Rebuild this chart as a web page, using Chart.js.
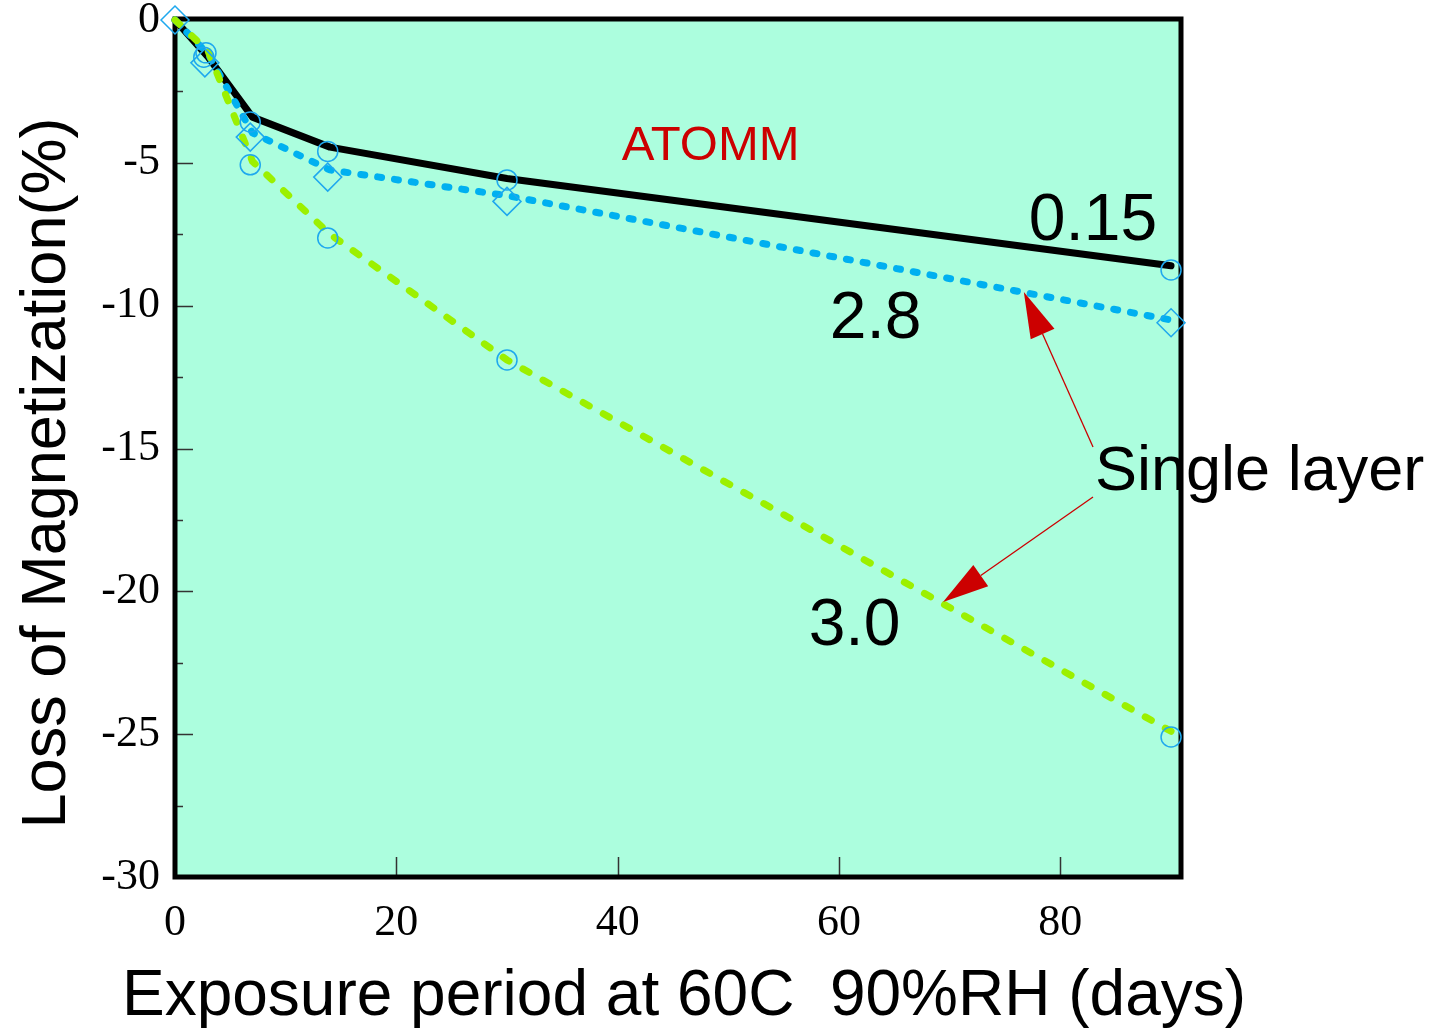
<!DOCTYPE html>
<html><head><meta charset="utf-8">
<script src="https://cdn.jsdelivr.net/npm/chart.js@4.4.1/dist/chart.umd.min.js"></script>
<style>html,body{margin:0;padding:0;background:#fff;}</style>
</head><body>
<canvas id="c" width="1434" height="1035" style="display:block;width:1434px;height:1035px"></canvas>
<script>
// ---- data ----
const days = [0, 3, 7, 14, 30, 90];
const line015 = [0, -1.3, -3.4, -4.45, -5.55, -8.6];
const line28 = [0, -1.2, -3.95, -5.25, -6.15, -10.5];
const line30 = [0, -1.1, -4.95, -7.5, -11.9, -24.9];
const circleX = [2.8, 2.6, 6.8, 6.8, 13.8, 13.8, 30, 30, 90, 90];
const circleY = [-1.15, -1.3, -3.57, -5.07, -4.6, -7.63, -5.6, -11.9, -8.75, -25.1];
const diamondX = [0, 2.7, 6.8, 13.8, 30, 90];
const diamondY = [0, -1.5, -4.1, -5.5, -6.35, -10.6];
const xTickValues = [0, 20, 40, 60, 80];
const yTickValues = [0, -5, -10, -15, -20, -25, -30];
const xTitle = 'Exposure period at 60C  90%RH (days)';
const yTitle = 'Loss of Magnetization(%)';
const seriesNames = ['0.15', '2.8', '3.0'];
const noteTitle = 'ATOMM';
const noteArrow = 'Single layer';

// ---- annotation placement (data coordinates) ----
const textPlacement = [
  {text: noteTitle, x: 48.4, y: -4.43, size: 49, color: '#cc0000', align: 'center'},
  {text: seriesNames[0], x: 82.95, y: -7.07, size: 66, color: '#000', align: 'center'},
  {text: seriesNames[1], x: 63.3, y: -10.5, size: 66, color: '#000', align: 'center'},
  {text: seriesNames[2], x: 61.4, y: -21.25, size: 66, color: '#000', align: 'center'},
  {text: noteArrow, x: 83.13, y: -15.86, size: 63, color: '#000', align: 'left'}
];
const arrowPlacement = [
  {x1: 82.95, y1: -14.95, x2: 76.7, y2: -9.52},
  {x1: 82.95, y1: -16.7, x2: 69.4, y2: -20.37}
];

const pts = (xs, ys) => xs.map((x, i) => ({x: x, y: ys[i]}));

const BG = '#acfede';
const MARK = '#1ea8ee';
const SANS = '"Liberation Sans", Arial, sans-serif';

const deco = {
  id: 'deco',
  beforeDraw(chart) {
    const {ctx, chartArea: a} = chart;
    ctx.save();
    ctx.fillStyle = BG;
    ctx.fillRect(a.left, a.top, a.right - a.left, a.bottom - a.top);
    ctx.restore();
  },
  beforeDatasetsDraw(chart) {
    const {ctx, chartArea: a, scales} = chart;
    ctx.save();
    ctx.strokeStyle = '#333';
    ctx.lineWidth = 1.5;
    ctx.beginPath();
    scales.y.ticks.forEach(t => {
      if (t.value === 0 || t.value === -30) return;
      const py = Math.round(scales.y.getPixelForValue(t.value)) + 0.5;
      const len = (t.value % 5 === 0) ? 18 : 8;
      ctx.moveTo(a.left, py); ctx.lineTo(a.left + len, py);
    });
    xTickValues.forEach(v => {
      if (v === 0) return;
      const px = Math.round(scales.x.getPixelForValue(v)) + 0.5;
      ctx.moveTo(px, a.bottom); ctx.lineTo(px, a.bottom - 20);
    });
    ctx.stroke();
    ctx.strokeStyle = '#000';
    ctx.lineWidth = 5;
    ctx.strokeRect(a.left, a.top - 1, a.right - a.left, a.bottom - a.top + 1);
    ctx.restore();
  },
  afterDatasetsDraw(chart) {
    const {ctx, scales} = chart;
    const X = v => scales.x.getPixelForValue(v), Y = v => scales.y.getPixelForValue(v);
    ctx.save();
    arrowPlacement.forEach(ar => {
      const x1 = X(ar.x1), y1 = Y(ar.y1), x2 = X(ar.x2), y2 = Y(ar.y2);
      const ang = Math.atan2(y2 - y1, x2 - x1);
      const hl = 46, hw = 13;
      const bx = x2 - Math.cos(ang) * hl, by = y2 - Math.sin(ang) * hl;
      ctx.strokeStyle = '#cc0000'; ctx.lineWidth = 1.3;
      ctx.beginPath(); ctx.moveTo(x1, y1); ctx.lineTo(bx, by); ctx.stroke();
      ctx.fillStyle = '#cc0000';
      ctx.beginPath();
      ctx.moveTo(x2, y2);
      ctx.lineTo(bx + Math.sin(ang) * hw, by - Math.cos(ang) * hw);
      ctx.lineTo(bx - Math.sin(ang) * hw, by + Math.cos(ang) * hw);
      ctx.closePath(); ctx.fill();
    });
    textPlacement.forEach(t => {
      ctx.font = t.size + 'px ' + SANS;
      ctx.fillStyle = t.color;
      ctx.textAlign = t.align;
      ctx.textBaseline = 'middle';
      ctx.fillText(t.text, X(t.x), Y(t.y));
    });
    // x axis title
    ctx.font = '64px ' + SANS;
    ctx.fillStyle = '#000';
    ctx.textAlign = 'center';
    ctx.textBaseline = 'middle';
    ctx.fillText(xTitle, 684, 997);
    // y axis title
    ctx.font = '63px ' + SANS;
    ctx.translate(48, 473);
    ctx.rotate(-Math.PI / 2);
    ctx.fillText(yTitle, 0, 0);
    ctx.restore();
  }
};

new Chart(document.getElementById('c'), {
  type: 'line',
  data: {
    datasets: [
      {label: 'circles', data: pts(circleX, circleY), showLine: false, pointStyle: 'circle', pointRadius: 10,
        pointBorderWidth: 1.5, borderColor: MARK, backgroundColor: 'rgba(0,0,0,0)', order: 0, clip: false},
      {label: 'diamonds', data: pts(diamondX, diamondY), showLine: false, pointStyle: 'rectRot', pointRadius: 14,
        pointBorderWidth: 1.5, borderColor: MARK, backgroundColor: 'rgba(0,0,0,0)', order: 0, clip: false},
      {label: seriesNames[2], data: pts(days, line30), borderColor: '#9cf000', borderWidth: 7, borderDash: [7, 16],
        borderCapStyle: 'round', pointRadius: 0, tension: 0, order: 1, clip: false},
      {label: seriesNames[1], data: pts(days, line28), borderColor: '#00b0f0', borderWidth: 7, borderDash: [4, 13],
        borderCapStyle: 'round', pointRadius: 0, tension: 0, order: 2, clip: false},
      {label: seriesNames[0], data: pts(days, line015), borderColor: '#000', borderWidth: 7,
        borderCapStyle: 'round', borderJoinStyle: 'round', pointRadius: 0, tension: 0, order: 3, clip: false}
    ]
  },
  options: {
    responsive: false,
    animation: false,
    devicePixelRatio: 1,
    layout: {padding: {top: 20, right: 253, left: 0, bottom: 0}},
    plugins: {legend: {display: false}, tooltip: {enabled: false}},
    scales: {
      x: {
        type: 'linear', min: 0, max: 90.9,
        grid: {display: false}, border: {display: false},
        ticks: {stepSize: 20, includeBounds: false, autoSkip: false, maxRotation: 0, padding: 12,
          color: '#000', font: {family: '"Liberation Serif", "Times New Roman", serif', size: 44}},
        title: {display: false, text: xTitle},
        afterFit(s) { s.height = 158; s.paddingLeft = 0; s.paddingRight = 0; }
      },
      y: {
        type: 'linear', min: -30, max: 0,
        grid: {display: false}, border: {display: false},
        ticks: {stepSize: 2.5, autoSkip: false, padding: 7, color: '#000',
          font: {family: '"Liberation Serif", "Times New Roman", serif', size: 44},
          callback: v => (Math.abs(v % 5) < 1e-9 ? String(Math.round(v)) : '')},
        title: {display: false, text: yTitle},
        afterFit(s) { s.width = 175; s.paddingTop = 0; s.paddingBottom = 0; }
      }
    }
  },
  plugins: [deco]
});
</script>
</body></html>
